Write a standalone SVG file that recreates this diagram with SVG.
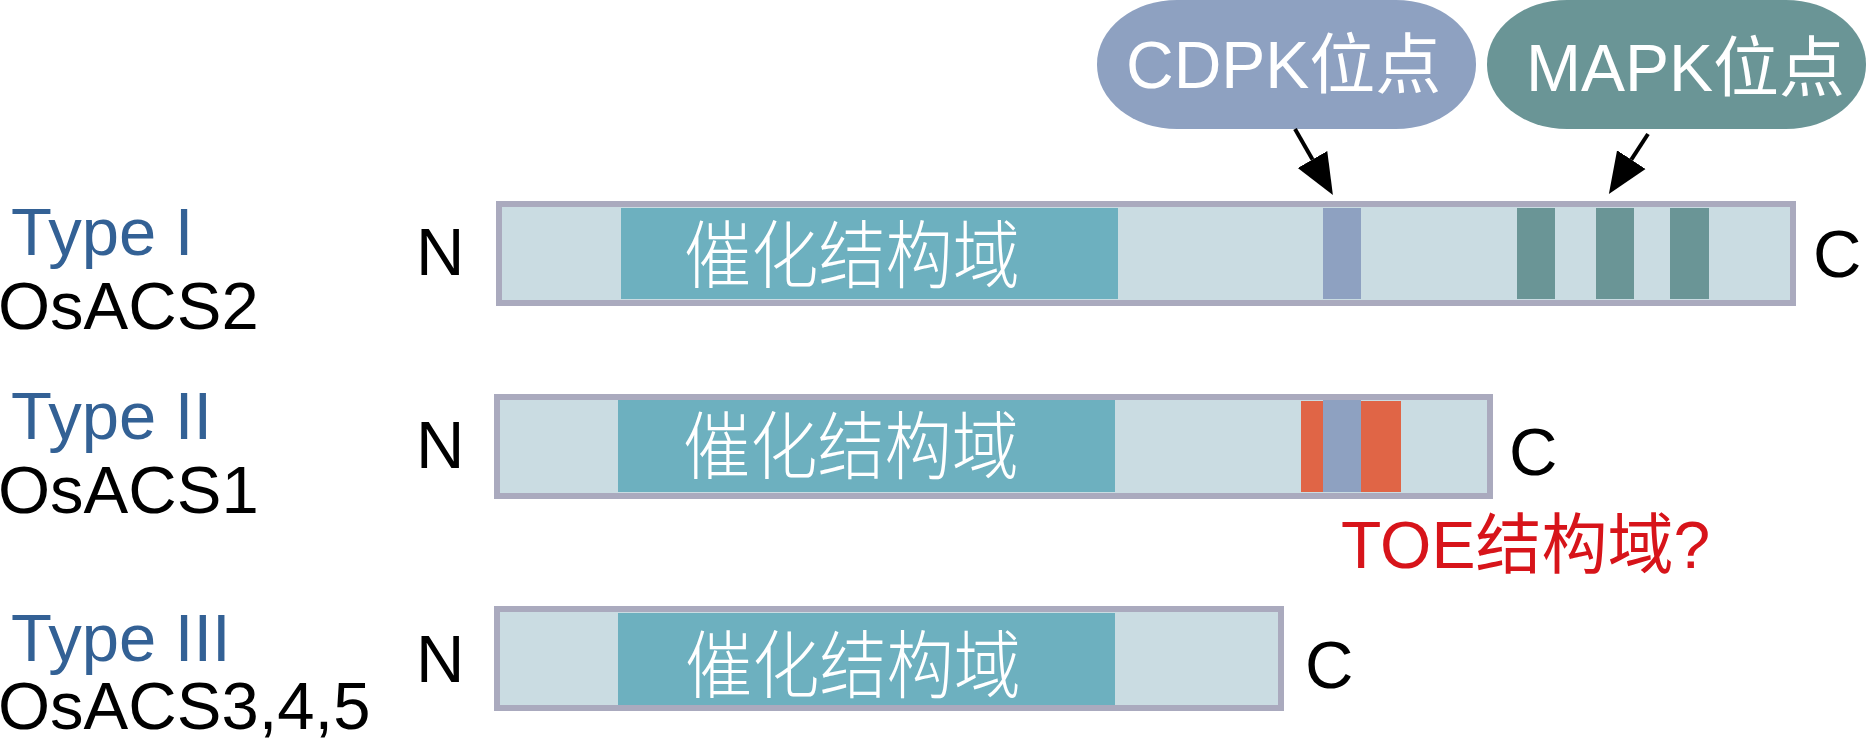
<svg xmlns="http://www.w3.org/2000/svg" width="1867" height="740" viewBox="0 0 1867 740">
  <defs>
    <style>
      .lat { font-family: "Liberation Sans", "Noto Sans CJK SC", sans-serif; font-size: 67px; }
      .type { fill: #336195; }
      .blk { fill: #000000; }
      .bubtxt { font-family: "Liberation Sans", "Noto Sans CJK SC", sans-serif; font-size: 66px; fill: #ffffff; }
      .dom { font-family: "Noto Sans CJK SC", sans-serif; font-size: 74px; font-weight: 300; fill: #ffffff; }
      .bar { fill: #cadce2; stroke: #aaaabe; stroke-width: 6; }
      .cat { fill: #6db0bf; }
      .cdpk { fill: #8ea1c1; }
      .mapk { fill: #6a9596; }
      .toe { fill: #e06546; }
      .red { fill: #d7141a; font-family: "Liberation Sans", "Noto Sans CJK SC", sans-serif; font-size: 66px; }
      .arr { stroke: #000000; stroke-width: 4; fill: none; }
    </style>
    <marker id="ah" markerUnits="userSpaceOnUse" markerWidth="44" markerHeight="36" refX="0" refY="17" orient="auto" viewBox="0 0 44 34">
      <path d="M0,0 L41,17 L0,34 Z" fill="#000000"/>
    </marker>
  </defs>

  <!-- Labels -->
  <g id="label-type1">
    <text class="lat type" x="11" y="255">Type I</text>
    <text class="lat blk" x="-2" y="329">OsACS2</text>
  </g>
  <g id="label-type2">
    <text class="lat type" x="11" y="439">Type II</text>
    <text class="lat blk" x="-2" y="513">OsACS1</text>
  </g>
  <g id="label-type3">
    <text class="lat type" x="11" y="661">Type III</text>
    <text class="lat blk" x="-2" y="729">OsACS3,4,5</text>
  </g>

  <!-- Bubbles -->
  <g id="cdpk-site">
    <rect class="cdpk" x="1097" y="0" width="379" height="129" rx="80" ry="64"/>
    <text class="bubtxt" x="1126" y="88">CDPK位点</text>
  </g>
  <g id="mapk-site">
    <rect class="mapk" x="1487" y="0" width="379" height="129" rx="80" ry="64"/>
    <text class="bubtxt" x="1526" y="91">MAPK位点</text>
  </g>

  <!-- Type I protein -->
  <g id="osacs2">
    <text class="lat blk" x="416" y="275">N</text>
    <rect class="bar" x="499" y="204" width="1294" height="99"/>
    <rect class="cat" x="621" y="208" width="497" height="91"/>
    <text class="dom" x="684" y="282" textLength="336" lengthAdjust="spacingAndGlyphs">催化结构域</text>
    <rect class="cdpk" x="1323" y="208" width="38" height="91"/>
    <rect class="mapk" x="1517" y="208" width="38" height="91"/>
    <rect class="mapk" x="1596" y="208" width="38" height="91"/>
    <rect class="mapk" x="1670" y="208" width="39" height="91"/>
    <text class="lat blk" x="1813" y="277">C</text>
  </g>

  <!-- Type II protein -->
  <g id="osacs1">
    <text class="lat blk" x="416" y="468">N</text>
    <rect class="bar" x="497" y="397" width="993" height="99"/>
    <rect class="cat" x="618" y="400" width="497" height="92"/>
    <text class="dom" x="683" y="473" textLength="336" lengthAdjust="spacingAndGlyphs">催化结构域</text>
    <rect class="toe" x="1301" y="401" width="22" height="91"/>
    <rect class="cdpk" x="1323" y="400" width="38" height="92"/>
    <rect class="toe" x="1361" y="401" width="40" height="91"/>
    <text class="lat blk" x="1509" y="475">C</text>
    <text class="red" x="1341" y="568">TOE结构域?</text>
  </g>

  <!-- Type III protein -->
  <g id="osacs345">
    <text class="lat blk" x="416" y="682">N</text>
    <rect class="bar" x="497" y="609" width="784" height="99"/>
    <rect class="cat" x="618" y="613" width="497" height="92"/>
    <text class="dom" x="685" y="692" textLength="336" lengthAdjust="spacingAndGlyphs">催化结构域</text>
    <text class="lat blk" x="1305" y="688">C</text>
  </g>

  <!-- Connectors -->
  <g id="connectors">
    <line class="arr" x1="1295" y1="129" x2="1312.5" y2="159.5" marker-end="url(#ah)"/>
    <line class="arr" x1="1648" y1="134" x2="1631.3" y2="159.6" marker-end="url(#ah)"/>
  </g>
</svg>
